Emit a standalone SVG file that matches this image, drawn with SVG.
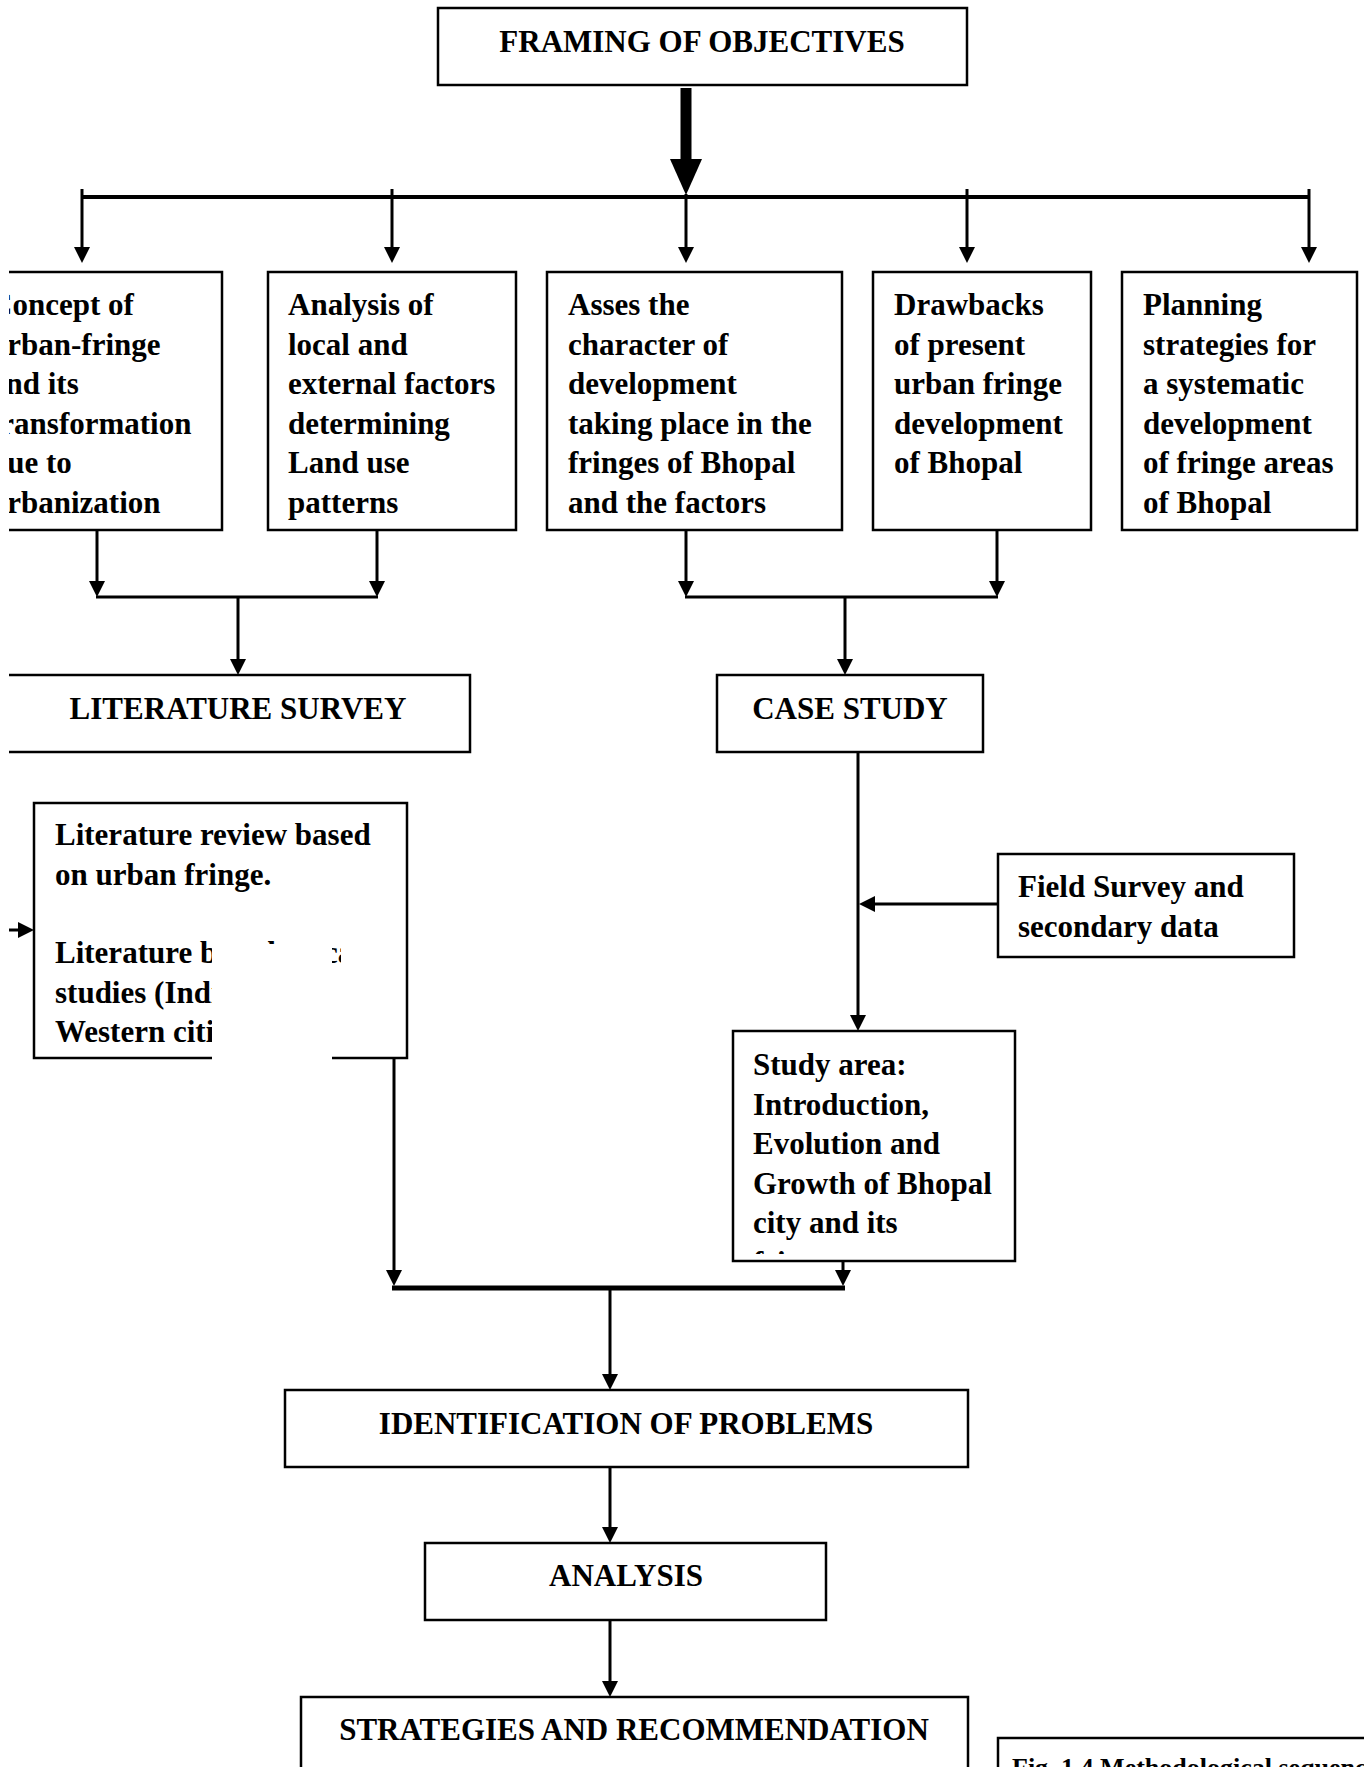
<svg xmlns="http://www.w3.org/2000/svg" width="1364" height="1767" viewBox="0 0 1364 1767">
<style>
.box{fill:#fff;stroke:#000;stroke-width:2.5}
.t{font-family:"Liberation Serif","Times New Roman",serif;font-weight:bold;font-size:31px;fill:#000}
.h{text-anchor:middle}
.c{stroke:#000;stroke-width:3;fill:none}
.bus{stroke:#000;stroke-width:4;fill:none}
.cap{font-family:"Liberation Serif","Times New Roman",serif;font-weight:bold;font-size:26px;fill:#000}
</style>
<defs>
<marker id="ah" markerUnits="userSpaceOnUse" markerWidth="16" markerHeight="16" viewBox="0 0 16 16" refX="12" refY="8" orient="auto">
<path d="M0,0 L16,8 L0,16 z" fill="#000"/>
</marker>
<clipPath id="clipL"><rect x="9" y="0" width="1355" height="1767"/></clipPath>
<clipPath id="clipStudy"><rect x="733" y="1031" width="282" height="223"/></clipPath>
<clipPath id="clipLine4"><rect x="34" y="900" width="307" height="100"/></clipPath>
</defs>
<rect width="1364" height="1767" fill="#fff"/>

<g id="connectors">
<line x1="686" y1="88" x2="686" y2="166" stroke="#000" stroke-width="11"/>
<polygon points="670,159 702,159 686,195" fill="#000"/>
<line class="bus" x1="82" y1="197" x2="1309" y2="197"/>
<line class="c" x1="82" y1="189" x2="82" y2="259" marker-end="url(#ah)"/>
<line class="c" x1="392" y1="189" x2="392" y2="259" marker-end="url(#ah)"/>
<line class="c" x1="686" y1="194" x2="686" y2="259" marker-end="url(#ah)"/>
<line class="c" x1="967" y1="189" x2="967" y2="259" marker-end="url(#ah)"/>
<line class="c" x1="1309" y1="189" x2="1309" y2="259" marker-end="url(#ah)"/>
<line class="c" x1="97" y1="530" x2="97" y2="593" marker-end="url(#ah)"/>
<line class="c" x1="377" y1="530" x2="377" y2="593" marker-end="url(#ah)"/>
<line class="c" x1="96" y1="597" x2="378" y2="597"/>
<line class="c" x1="238" y1="597" x2="238" y2="671" marker-end="url(#ah)"/>
<line class="c" x1="686" y1="530" x2="686" y2="593" marker-end="url(#ah)"/>
<line class="c" x1="997" y1="530" x2="997" y2="593" marker-end="url(#ah)"/>
<line class="c" x1="685" y1="597" x2="998" y2="597"/>
<line class="c" x1="845" y1="597" x2="845" y2="671" marker-end="url(#ah)"/>
<line class="c" x1="858" y1="752" x2="858" y2="1027" marker-end="url(#ah)"/>
<line class="c" x1="998" y1="904" x2="863" y2="904" marker-end="url(#ah)"/>
<g clip-path="url(#clipL)">
<line class="c" x1="0" y1="930" x2="30" y2="930" marker-end="url(#ah)"/>
</g>
<line class="c" x1="394" y1="1058" x2="394" y2="1282" marker-end="url(#ah)"/>
<line class="c" x1="843" y1="1261" x2="843" y2="1282" marker-end="url(#ah)"/>
<line stroke="#000" stroke-width="5" x1="392" y1="1288" x2="845" y2="1288"/>
<line class="c" x1="610" y1="1288" x2="610" y2="1386" marker-end="url(#ah)"/>
<line class="c" x1="610" y1="1467" x2="610" y2="1539" marker-end="url(#ah)"/>
<line class="c" x1="610" y1="1620" x2="610" y2="1693" marker-end="url(#ah)"/>
</g>

<g id="framing">
<rect class="box" x="438" y="8" width="529" height="77"/>
<text class="t h" x="702" y="52">FRAMING OF OBJECTIVES</text>
</g>

<g id="obj1" clip-path="url(#clipL)">
<rect class="box" x="-30" y="272" width="252" height="258"/>
<text class="t" x="-10" y="315">Concept of</text>
<text class="t" x="-10" y="354.5">urban-fringe</text>
<text class="t" x="-10" y="394">and its</text>
<text class="t" x="-10" y="433.5">transformation</text>
<text class="t" x="-10" y="473">due to</text>
<text class="t" x="-10" y="512.5">urbanization</text>
</g>

<g id="obj2">
<rect class="box" x="268" y="272" width="248" height="258"/>
<text class="t" x="288" y="315">Analysis of</text>
<text class="t" x="288" y="354.5">local and</text>
<text class="t" x="288" y="394">external factors</text>
<text class="t" x="288" y="433.5">determining</text>
<text class="t" x="288" y="473">Land use</text>
<text class="t" x="288" y="512.5">patterns</text>
</g>

<g id="obj3">
<rect class="box" x="547" y="272" width="295" height="258"/>
<text class="t" x="568" y="315">Asses the</text>
<text class="t" x="568" y="354.5">character of</text>
<text class="t" x="568" y="394">development</text>
<text class="t" x="568" y="433.5">taking place in the</text>
<text class="t" x="568" y="473">fringes of Bhopal</text>
<text class="t" x="568" y="512.5">and the factors</text>
</g>

<g id="obj4">
<rect class="box" x="873" y="272" width="218" height="258"/>
<text class="t" x="894" y="315">Drawbacks</text>
<text class="t" x="894" y="354.5">of present</text>
<text class="t" x="894" y="394">urban fringe</text>
<text class="t" x="894" y="433.5">development</text>
<text class="t" x="894" y="473">of Bhopal</text>
</g>

<g id="obj5">
<rect class="box" x="1122" y="272" width="235" height="258"/>
<text class="t" x="1143" y="315">Planning</text>
<text class="t" x="1143" y="354.5">strategies for</text>
<text class="t" x="1143" y="394">a systematic</text>
<text class="t" x="1143" y="433.5">development</text>
<text class="t" x="1143" y="473">of fringe areas</text>
<text class="t" x="1143" y="512.5">of Bhopal</text>
</g>

<g id="literature-survey" clip-path="url(#clipL)">
<rect class="box" x="-30" y="675" width="500" height="77"/>
<text class="t h" x="238" y="719">LITERATURE SURVEY</text>
</g>

<g id="case-study">
<rect class="box" x="717" y="675" width="266" height="77"/>
<text class="t h" x="850" y="719">CASE STUDY</text>
</g>

<g id="literature-review">
<rect class="box" x="34" y="803" width="373" height="255"/>
<text class="t" x="55" y="845">Literature review based</text>
<text class="t" x="55" y="884.5">on urban fringe.</text>
<text class="t" x="55" y="963" clip-path="url(#clipLine4)">Literature based on case</text>
<text class="t" x="55" y="1002.5">studies (Indian and</text>
<text class="t" x="55" y="1042">Western cities)</text>
<rect x="212" y="944" width="120" height="121" fill="#fff"/>
</g>

<g id="field-survey">
<rect class="box" x="998" y="854" width="296" height="103"/>
<text class="t" x="1018" y="897">Field Survey and</text>
<text class="t" x="1018" y="937">secondary data</text>
</g>

<g id="study-area">
<rect class="box" x="733" y="1031" width="282" height="230"/>
<g clip-path="url(#clipStudy)">
<text class="t" x="753" y="1075">Study area:</text>
<text class="t" x="753" y="1114.5">Introduction,</text>
<text class="t" x="753" y="1154">Evolution and</text>
<text class="t" x="753" y="1193.5">Growth of Bhopal</text>
<text class="t" x="753" y="1233">city and its</text>
<text class="t" x="753" y="1272.5">fringes</text>
</g>
</g>

<g id="identification">
<rect class="box" x="285" y="1390" width="683" height="77"/>
<text class="t h" x="626" y="1434">IDENTIFICATION OF PROBLEMS</text>
</g>

<g id="analysis">
<rect class="box" x="425" y="1543" width="401" height="77"/>
<text class="t h" x="626" y="1586">ANALYSIS</text>
</g>

<g id="strategies">
<rect class="box" x="301" y="1697" width="667" height="120"/>
<text class="t h" x="634" y="1740">STRATEGIES AND RECOMMENDATION</text>
</g>

<g id="caption">
<rect class="box" x="998" y="1738" width="420" height="80"/>
<text class="cap" x="1012" y="1776">Fig. 1.4 Methodological sequence</text>
</g>
</svg>
